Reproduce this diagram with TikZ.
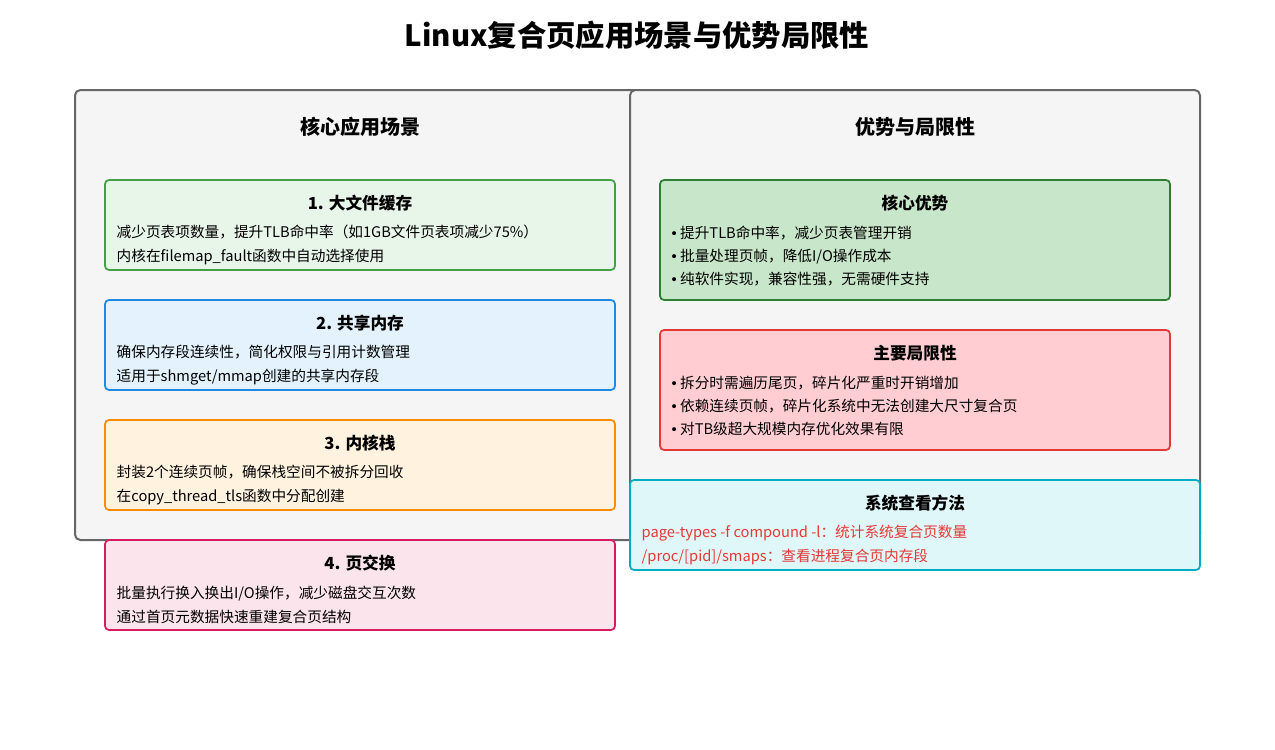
\documentclass[tikz,border=0pt]{standalone}
\usepackage{fontspec}
\setmainfont{Noto Sans CJK SC}
\newfontfamily\latinfont{Liberation Sans}
\newcommand{\bul}{{\latinfont •}~}
\definecolor{gbord}{HTML}{43A047}\definecolor{gfill}{HTML}{E8F5E9}
\definecolor{bbord}{HTML}{1E88E5}\definecolor{bfill}{HTML}{E3F2FD}
\definecolor{obord}{HTML}{FB8C00}\definecolor{ofill}{HTML}{FFF3E0}
\definecolor{pbord}{HTML}{D81B60}\definecolor{pfill}{HTML}{FCE4EC}
\definecolor{abord}{HTML}{2E7D32}\definecolor{afill}{HTML}{C8E6C9}
\definecolor{rbord}{HTML}{E53935}\definecolor{rfill}{HTML}{FFCDD2}
\definecolor{cbord}{HTML}{00ACC1}\definecolor{cfill}{HTML}{E0F7FA}
\begin{document}
\begin{tikzpicture}[x=0.75pt,y=-0.75pt,
  panel/.style={draw=black!60, fill=black!4, line width=1.5pt, rounded corners=4pt},
  card/.style={line width=1.3pt, rounded corners=3pt},
  ttl/.style={font=\fontsize{12.5}{14}\selectfont\bfseries},
  body/.style={anchor=west, align=left, font=\fontsize{11}{17.5}\selectfont}]
\useasboundingbox (0,0) rectangle (1275,750);
\node[font=\fontsize{22}{24}\selectfont\bfseries] (title) at (637,35) {Linux复合页应用场景与优势局限性};
% panels
\draw[panel] (75,90) rectangle (640,540);
\draw[panel] (630,90) rectangle (1200,540);
\node[font=\fontsize{15}{16}\selectfont\bfseries] (lhead) at (360,127) {核心应用场景};
\node[font=\fontsize{15}{16}\selectfont\bfseries] (rhead) at (915,127) {优势与局限性};
% left cards
\draw[card, draw=gbord, fill=gfill] (105,180) rectangle (615,270);
\node[ttl] (c1) at (360,203) {1. 大文件缓存};
\node[body] (c1b) at (112,245) {减少页表项数量，提升TLB命中率（如1GB文件页表项减少75\%）\\内核在filemap\_fault函数中自动选择使用};
\draw[card, draw=bbord, fill=bfill] (105,300) rectangle (615,390);
\node[ttl] (c2) at (360,323) {2. 共享内存};
\node[body] (c2b) at (112,365) {确保内存段连续性，简化权限与引用计数管理\\适用于shmget/mmap创建的共享内存段};
\draw[card, draw=obord, fill=ofill] (105,420) rectangle (615,510);
\node[ttl] (c3) at (360,443) {3. 内核栈};
\node[body] (c3b) at (112,485) {封装2个连续页帧，确保栈空间不被拆分回收\\在copy\_thread\_tls函数中分配创建};
\draw[card, draw=pbord, fill=pfill] (105,540) rectangle (615,630);
\node[ttl] (c4) at (360,563) {4. 页交换};
\node[body] (c4b) at (112,605) {批量执行换入换出I/O操作，减少磁盘交互次数\\通过首页元数据快速重建复合页结构};
% right cards
\draw[card, draw=abord, fill=afill] (660,180) rectangle (1170,300);
\node[ttl] (adv) at (915,203) {核心优势};
\node[body] (advb) at (667,256) {\bul 提升TLB命中率，减少页表管理开销\\\bul 批量处理页帧，降低I/O操作成本\\\bul 纯软件实现，兼容性强，无需硬件支持};
\draw[card, draw=rbord, fill=rfill] (660,330) rectangle (1170,450);
\node[ttl] (lim) at (915,353) {主要局限性};
\node[body] (limb) at (667,406) {\bul 拆分时需遍历尾页，碎片化严重时开销增加\\\bul 依赖连续页帧，碎片化系统中无法创建大尺寸复合页\\\bul 对TB级超大规模内存优化效果有限};
\draw[card, draw=cbord, fill=cfill] (630,480) rectangle (1200,570);
\node[ttl] (chk) at (915,503) {系统查看方法};
\node[body, text=rbord] (chkb) at (637,545) {page-types -f compound -l：统计系统复合页数量\\/proc/[pid]/smaps：查看进程复合页内存段};
\end{tikzpicture}
\end{document}
